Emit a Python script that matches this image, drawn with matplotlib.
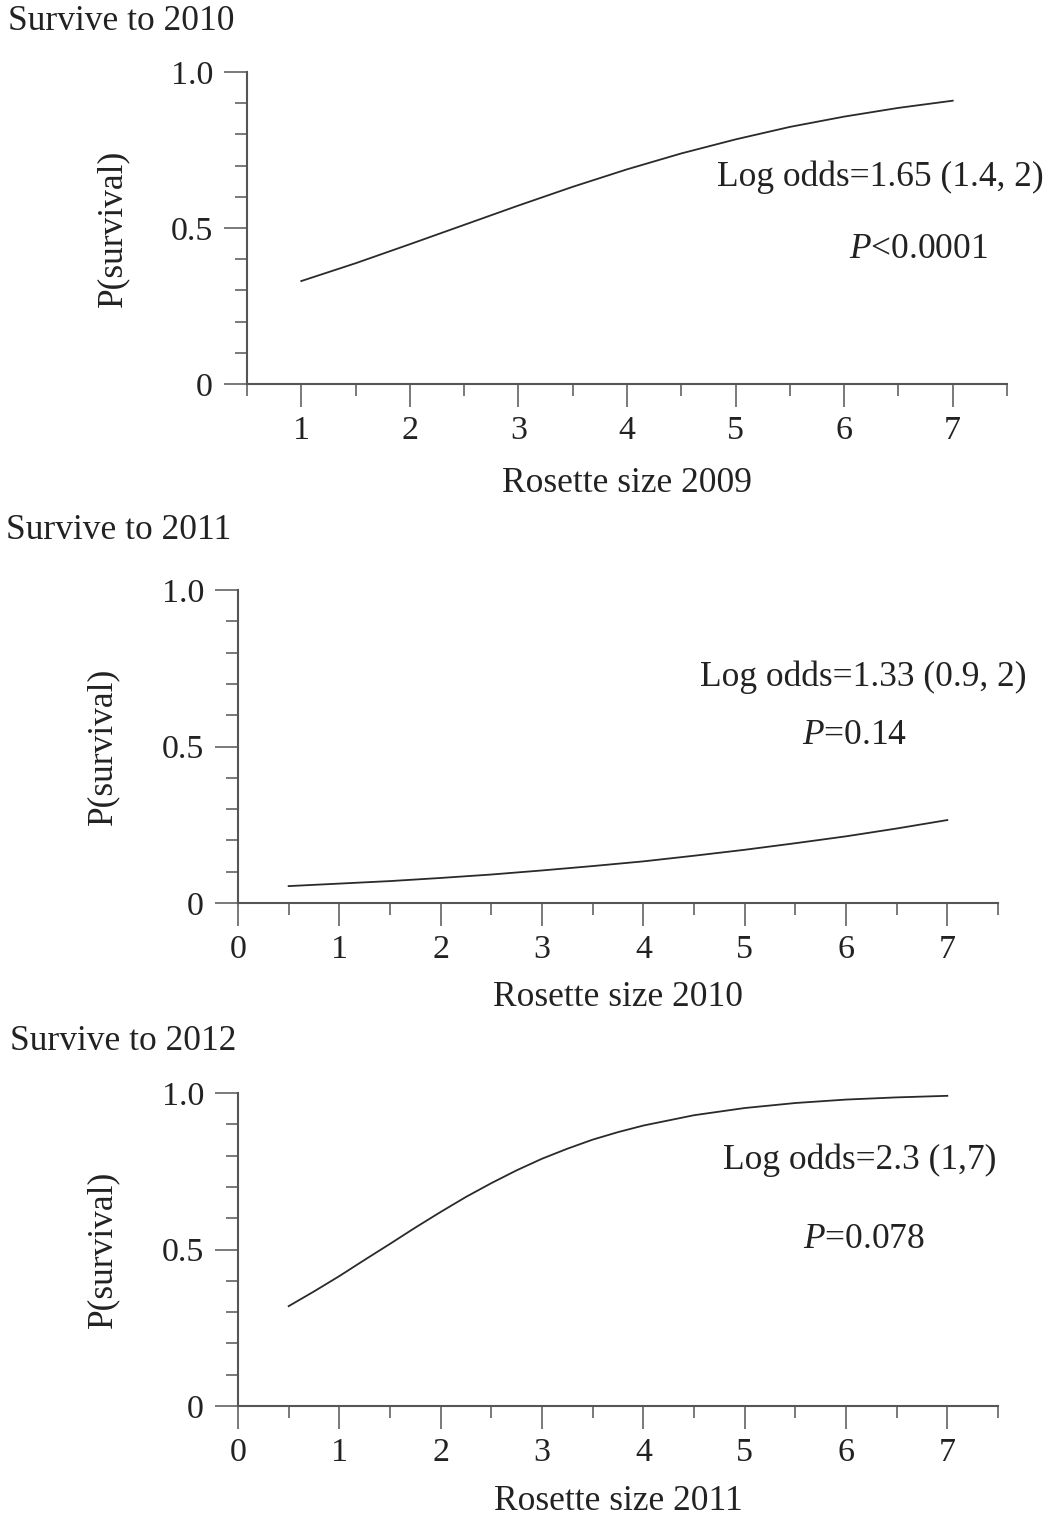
import matplotlib
matplotlib.use("Agg")
import matplotlib.pyplot as plt
from matplotlib.ticker import MultipleLocator, FixedLocator, FixedFormatter

plt.rcParams['font.family'] = 'Liberation Serif'
plt.rcParams['mathtext.fontset'] = 'custom'
plt.rcParams['mathtext.rm'] = 'Liberation Serif'
plt.rcParams['mathtext.it'] = 'Liberation Serif:italic'

size_2009 = [1, 1.5, 2, 2.5, 3, 3.5, 4, 4.5, 5, 5.5, 6, 6.5, 7]
surv_2010 = [0.330, 0.387, 0.448, 0.510, 0.572, 0.632, 0.688, 0.739, 0.784, 0.824, 0.857, 0.885, 0.908]

size_2010 = [0.5, 1, 1.5, 2, 2.5, 3, 3.5, 4, 4.5, 5, 5.5, 6, 6.5, 7]
surv_2011 = [0.054, 0.062, 0.070, 0.080, 0.091, 0.104, 0.118, 0.133, 0.151, 0.170, 0.191, 0.213, 0.238, 0.265]

size_2011 = [0.5, 0.75, 1, 1.25, 1.5, 1.75, 2, 2.25, 2.5, 2.75, 3, 3.25, 3.5, 3.75, 4,
             4.5, 5, 5.5, 6, 6.5, 7]
surv_2012 = [0.319, 0.366, 0.415, 0.467, 0.518, 0.570, 0.620, 0.668, 0.712, 0.753, 0.790,
             0.822, 0.851, 0.875, 0.896, 0.929, 0.952, 0.968, 0.979, 0.986, 0.991]

titles = ["Survive to 2010", "Survive to 2011", "Survive to 2012"]
xlabels = ["Rosette size 2009", "Rosette size 2010", "Rosette size 2011"]
stats = [("Log odds=1.65 (1.4, 2)", "$P$<0.0001"),
         ("Log odds=1.33 (0.9, 2)", "$P$=0.14"),
         ("Log odds=2.3 (1,7)", "$P$=0.078")]

W, H = 1054, 1521
fig = plt.figure(figsize=(W / 100, H / 100), dpi=100)


def fx(x):
    return x / W


def fy(y):
    return 1 - y / H


def panel(left, top, right, bottom, xmin, xs, ys, xmaj):
    ax = fig.add_axes([fx(left), fy(bottom), fx(right) - fx(left), fy(top) - fy(bottom)])
    ax.plot(xs, ys, color='#2a2a2a', lw=1.3)
    ax.set_xlim(xmin, 7.5)
    ax.set_ylim(0, 1)
    for s in ['top', 'right']:
        ax.spines[s].set_visible(False)
    for s in ['left', 'bottom']:
        ax.spines[s].set_color('#555555')
        ax.spines[s].set_linewidth(1.5)
    ax.xaxis.set_major_locator(FixedLocator(xmaj))
    ax.xaxis.set_minor_locator(FixedLocator([v + 0.5 for v in range(0, 8)]))
    ax.yaxis.set_major_locator(FixedLocator([0, 0.5, 1.0]))
    ax.yaxis.set_major_formatter(FixedFormatter(['0', '0.5', '1.0']))
    ax.yaxis.set_minor_locator(MultipleLocator(0.1))
    ax.tick_params(which='major', direction='out', length=16.5, width=1.1,
                   color='#555555', labelsize=24.5, labelcolor='#222222')
    ax.tick_params(which='minor', direction='out', length=8.5, width=1.1, color='#555555')
    ax.tick_params(axis='x', which='major', pad=6)
    ax.tick_params(axis='y', which='major', pad=8)
    return ax


panel(247, 72, 1007, 384, 0.5, size_2009, surv_2010, [1, 2, 3, 4, 5, 6, 7])
panel(238, 590, 998, 903, 0, size_2010, surv_2011, [0, 1, 2, 3, 4, 5, 6, 7])
panel(238, 1093, 998, 1406, 0, size_2011, surv_2012, [0, 1, 2, 3, 4, 5, 6, 7])

tc = '#222222'
fs = 25.5
# panel titles
for t, (x, y) in zip(titles, [(8, 22), (6, 530), (10, 1041)]):
    fig.text(fx(x), fy(y), t, ha='left', va='center', fontsize=fs, color=tc)
# axis labels
for t, (x, y) in zip(xlabels, [(627, 483), (618, 998), (618, 1502)]):
    fig.text(fx(x), fy(y), t, ha='center', va='center', fontsize=fs, color=tc)
for (x, y) in [(113, 228), (103, 746), (103, 1249)]:
    fig.text(fx(x), fy(y), "P(survival)", ha='center', va='center', rotation=90,
             fontsize=fs, color=tc)
# model statistics
pos = [((880, 177), (918, 250)), ((863, 677), (855, 735)), ((860, 1160), (864, 1239))]
for (odds, p), ((x1, y1), (x2, y2)) in zip(stats, pos):
    fig.text(fx(x1), fy(y1), odds, ha='center', va='center', fontsize=fs, color=tc)
    fig.text(fx(x2), fy(y2), p, ha='center', va='center', fontsize=fs, color=tc)

fig.savefig("out.png", dpi=100)
